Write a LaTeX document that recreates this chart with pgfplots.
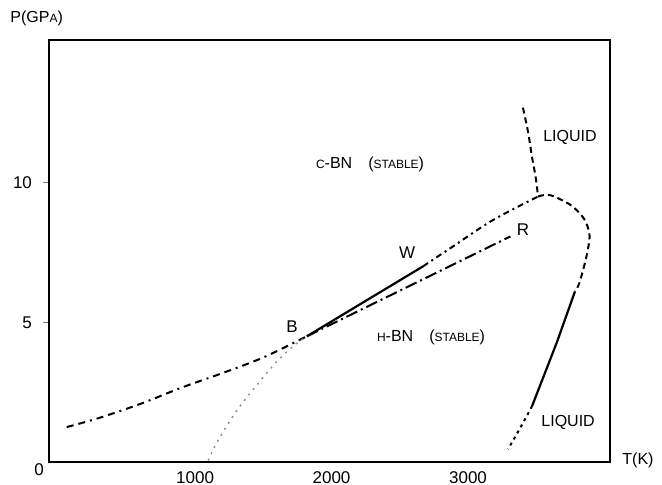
\documentclass[border=0pt]{standalone}
\usepackage{fontspec}
\setmainfont{Liberation Sans}
\usepackage{pgfplots}
\pgfplotsset{compat=1.18}
\newcommand{\sm}[1]{{\fontsize{6}{7}\selectfont #1}}
\begin{document}
\begin{tikzpicture}
\begin{axis}[
  at={(0,0)}, anchor=south west,
  scale only axis, width=280.5pt, height=211pt,
  xmin=-70, xmax=4040, ymin=0, ymax=15.1,
  axis line style={line width=1pt},
  xtick={1000,2000,3000}, ytick={5,10},
  xtick pos=bottom, ytick pos=left,
  tick align=outside, major tick length=3pt,
  xtick style={draw=none}, ytick style={line width=0.7pt},
  tick label style={font=\fontsize{8.5}{10}\selectfont},
  /pgf/number format/assume math mode=true,
  /pgf/number format/1000 sep={},
  yticklabel style={xshift=-2pt},
  xticklabel style={yshift=1.5pt},
  clip=false,
]
% c-BN / h-BN equilibrium, low-T part
\addplot[black, line width=1pt, dash pattern=on 3.5pt off 2.5pt on 3.5pt off 2.5pt on 1pt off 2.5pt, smooth]
  coordinates {(60,1.25) (300,1.58) (600,2.08) (900,2.66) (1200,3.18) (1500,3.74) (1820,4.5)};
% solid B -> W
\addplot[black, line width=1.1pt] coordinates {(1820,4.5) (2670,7.0)};
% W -> triple point
\addplot[black, line width=1pt, dash pattern=on 3pt off 2pt on 1pt off 2pt, smooth]
  coordinates {(2670,7.0) (2870,7.65) (3180,8.65) (3513,9.5)};
% B -> R
\addplot[black, line width=1pt, dash pattern=on 6pt off 2pt on 1pt off 2pt]
  coordinates {(1820,4.5) (3310,8.07)};
% c-BN melting line
\addplot[black, line width=1pt, dash pattern=on 3pt off 2pt, smooth]
  coordinates {(3402,12.68) (3440,11.8) (3468,10.93) (3495,10.2) (3513,9.5)};
% h-BN melting line, dashed part
\addplot[black, line width=1pt, dash pattern=on 3pt off 2pt, smooth]
  coordinates {(3513,9.5) (3600,9.55) (3750,9.2) (3850,8.7) (3890,8.1) (3865,7.3) (3815,6.4) (3783,6.1)};
% solid part
\addplot[black, line width=1.1pt] coordinates {(3783,6.1) (3652,4.3) (3469,2.0)};
% dotted lower part
\addplot[black, line width=1pt, dash pattern=on 1.5pt off 2pt, smooth]
  coordinates {(3469,2.0) (3380,1.2) (3293,0.46)};
% faint dotted line from B to T axis
\addplot[black!45, line width=0.7pt, dash pattern=on 1pt off 2.5pt, smooth]
  coordinates {(1096,0.05) (1160,0.7) (1300,1.8) (1460,2.8) (1600,3.6) (1720,4.15) (1820,4.5)};

\node[font=\fontsize{8}{9.6}\selectfont] at (axis cs:2282,10.64) {\sm{C}-BN\quad(\sm{STABLE})};
\node[font=\fontsize{8}{9.6}\selectfont] at (axis cs:2729,4.46) {\sm{H}-BN\quad(\sm{STABLE})};
\node[font=\fontsize{8}{9.6}\selectfont] at (axis cs:3747,11.6) {LIQUID};
\node[font=\fontsize{8}{9.6}\selectfont] at (axis cs:3733,1.43) {LIQUID};
\node[font=\fontsize{8.5}{10}\selectfont] at (axis cs:2553,7.5) {W};
\node[font=\fontsize{8.5}{10}\selectfont] at (axis cs:3403,8.32) {R};
\node[font=\fontsize{8.5}{10}\selectfont] at (axis cs:1710,4.86) {B};
\node[font=\fontsize{8.5}{10}\selectfont] at (rel axis cs:0,0) [xshift=-5pt, yshift=-4pt] {0};
\node[font=\fontsize{8}{9.6}\selectfont, anchor=west, inner sep=0pt] at (rel axis cs:1,0) [xshift=6pt, yshift=1pt] {T(K)};
\node[font=\fontsize{8}{9.6}\selectfont, anchor=west, inner sep=0pt] at (rel axis cs:0,1) [xshift=-19.5pt, yshift=11pt] {P(GP\sm{A})};
\end{axis}
\pgfresetboundingbox
\path[use as bounding box] (-24.5pt,-11.5pt) rectangle (306.5pt,231pt);
\end{tikzpicture}
\end{document}
